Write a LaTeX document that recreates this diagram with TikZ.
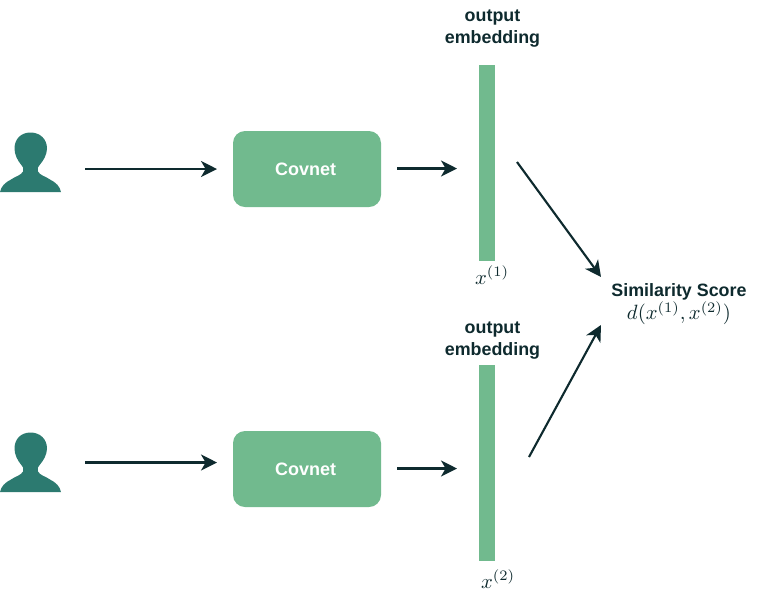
\documentclass[tikz,border=0pt]{standalone}
\usepackage{fontspec}
\setmainfont{Liberation Sans}
\usetikzlibrary{arrows.meta}
\definecolor{boxgreen}{HTML}{71BA8E}
\definecolor{person}{HTML}{2C7A70}
\definecolor{inkdark}{HTML}{0E2A2E}
\tikzset{
  px/.style={x=0.75pt,y=-0.75pt},
  conn/.style={draw=inkdark,line width=1.6pt,-{Stealth[length=12pt,width=12pt,inset=3.5pt]}},
  covbox/.style={fill=boxgreen,rounded corners=9pt,minimum width=111pt,minimum height=57pt,inner sep=0pt,text=white,font=\bfseries\fontsize{13.5}{13.5}\selectfont},
  bar/.style={fill=boxgreen,minimum width=12pt,minimum height=147pt,inner sep=0pt},
  lab/.style={text=inkdark,font=\bfseries\fontsize{13.4}{16.5}\selectfont,align=center,inner sep=0pt},
  mathlab/.style={text=inkdark,inner sep=0pt,scale=1.55,transform shape},
  usericon/.pic={
    \fill[person] (30.5,132.5) .. controls (21,132.5) and (14.5,139) .. (14.5,148.5)
      .. controls (14.5,155) and (18,161) .. (21,164.5)
      .. controls (23,166.5) and (24,168.5) .. (23,171.5)
      .. controls (21,175.5) and (15,176.5) .. (11,179.5)
      .. controls (5,182.5) and (1,186.5) .. (0,192)
      -- (61,192)
      .. controls (60,186.5) and (56,182.5) .. (50,179.5)
      .. controls (46,176.5) and (40,175.5) .. (38,171.5)
      .. controls (37,168.5) and (38,166.5) .. (40,164.5)
      .. controls (43,161) and (47,155) .. (47,148.5)
      .. controls (47,139) and (40,132.5) .. (30.5,132.5) -- cycle;
  }
}
\begin{document}
\begin{tikzpicture}[px]
\useasboundingbox (0,0) rectangle (775,612);
\pic at (0,0) {usericon};
\pic at (0,300) {usericon};
\node[covbox] (c1) at (307,169) {\kern-2pt Covnet};
\node[covbox] (c2) at (307,469) {\kern-2pt Covnet};
\node[bar] (b1) at (487,163) {};
\node[bar] (b2) at (487,463) {};
\node[lab] (o1) at (492.5,28.5) {output\\embedding};
\node[lab] (o2) at (492.5,340.5) {output\\embedding};
\node[mathlab] (x1) at (492,275) {$x^{(1)}$};
\node[mathlab] (x2) at (498,579) {$x^{(2)}$};
\node[lab] (s) at (679,291.5) {Similarity Score};
\node[mathlab] (d) at (679,313) {$d(x^{(1)},x^{(2)})$};
\coordinate (u1) at (85,169);
\coordinate (u2) at (85,462.5);
\coordinate (t1) at (217,169);
\coordinate (t2) at (217,462.5);
\coordinate (a1) at (397,168.5);
\coordinate (e1) at (457,168.5);
\coordinate (a2) at (397,468.5);
\coordinate (e2) at (457,468.5);
\coordinate (f1) at (517,162);
\coordinate (g1) at (601,277);
\coordinate (f2) at (529,457);
\coordinate (g2) at (601,325);
\draw[conn] (u1) -- (t1);
\draw[conn] (u2) -- (t2);
\draw[conn] (a1) -- (e1);
\draw[conn] (a2) -- (e2);
\draw[conn] (f1) -- (g1);
\draw[conn] (f2) -- (g2);
\end{tikzpicture}
\end{document}
